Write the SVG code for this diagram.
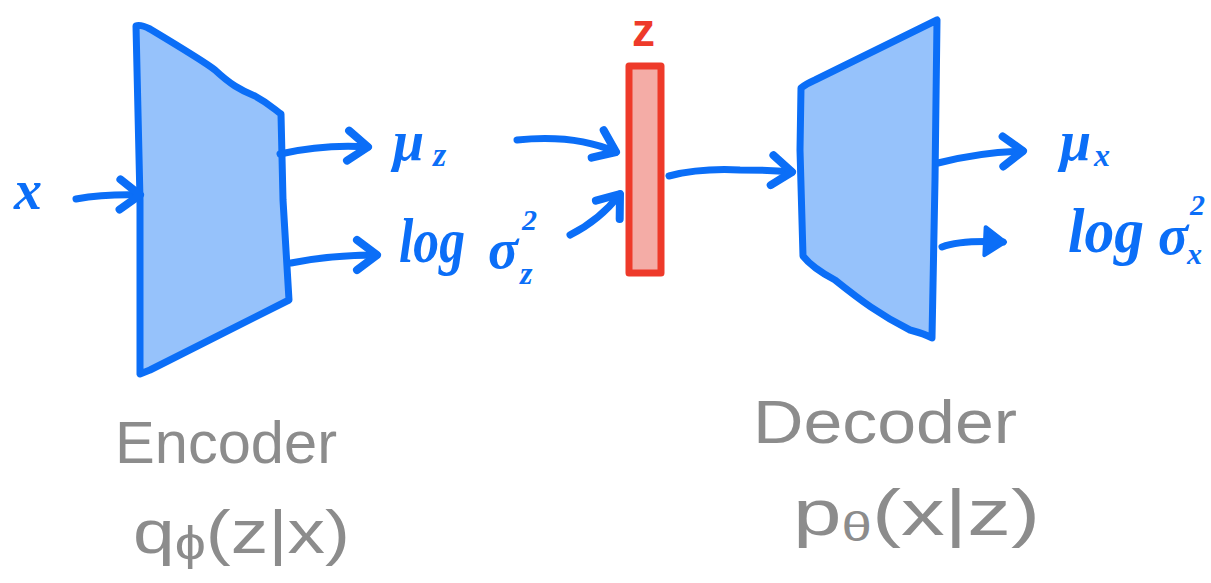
<svg xmlns="http://www.w3.org/2000/svg" width="1211" height="583" viewBox="0 0 1211 583">
<style>
.blk{fill:#96C2FB;stroke:#0B6EF7;stroke-width:7;stroke-linejoin:round;stroke-linecap:round}
.ln{fill:none;stroke:#0B6EF7;stroke-width:7;stroke-linecap:round;stroke-linejoin:round}
.m{fill:#0B6EF7;font-family:"Liberation Serif",serif;font-style:italic;font-weight:bold}
.g{fill:#8C8C8C;font-family:"Liberation Sans",sans-serif}
</style>
<defs>
<marker id="open" markerUnits="userSpaceOnUse" markerWidth="40" markerHeight="40" refX="20" refY="20" orient="auto" overflow="visible">
<path d="M0,5 L20,20 L0,35" fill="none" stroke="#0B6EF7" stroke-width="8" stroke-linecap="round" stroke-linejoin="round"/>
</marker>
<marker id="solid" markerUnits="userSpaceOnUse" markerWidth="40" markerHeight="40" refX="18" refY="16" orient="auto" overflow="visible">
<path d="M0,2 L20,16 L0,30 Z" fill="#0B6EF7" stroke="#0B6EF7" stroke-width="4" stroke-linejoin="round"/>
</marker>
</defs>
<g id="encoder">
<path class="blk" d="M136,26 Q140,24 150,29 C185,50 205,62 215,70 C230,84 240,90 255,96 C270,104 275,110 281,114 L283,200 L289,300 L150,370 L140,374 L140,200 Z"/>
</g>
<g id="z">
<rect x="629" y="66" width="32" height="207" fill="#F4ACA6" stroke="#EE3A2A" stroke-width="7" stroke-linejoin="round"/>
<text x="632" y="46" fill="#EE3A2A" font-family="Liberation Sans,sans-serif" font-weight="bold" font-size="46">z</text>
</g>
<g id="decoder">
<path class="blk" d="M801,88 Q806,84 815,80 L937,20 L935,180 L932,338 Q925,334 910,330 C880,315 860,300 835,280 C820,272 810,265 803,256 L800,150 Z"/>
</g>
<g id="connectors">
<path class="ln" marker-end="url(#open)" d="M76,199 Q105,194 140,195"/>
<path class="ln" marker-end="url(#open)" d="M280,154 Q325,144 368,147"/>
<path class="ln" marker-end="url(#open)" d="M291,263 Q330,255 377,255"/>
<path class="ln" marker-end="url(#open)" d="M517,140 Q575,134 616,152"/>
<path class="ln" marker-end="url(#open)" d="M570,235 Q600,220 620,194"/>
<path class="ln" marker-end="url(#open)" d="M669,176 Q700,168 740,170 Q770,170 792,172"/>
<path class="ln" marker-end="url(#open)" d="M938,163 Q980,152 1023,151"/>
<path class="ln" marker-end="url(#solid)" d="M942,247 Q960,240 1003,242"/>
</g>
<g id="labels">
<text class="m" x="14" y="209" font-size="56">x</text>
<text class="m" x="393" y="160" font-size="56">μ</text>
<text class="m" x="433" y="166" font-size="34">z</text>
<text class="m" x="399" y="262" font-size="64" textLength="66" lengthAdjust="spacingAndGlyphs">log</text>
<text class="m" x="488" y="268" font-size="56">σ</text>
<text class="m" x="522" y="230" font-size="30">2</text>
<text class="m" x="520" y="284" font-size="32">z</text>
<text class="m" x="1060" y="160" font-size="56">μ</text>
<text class="m" x="1094" y="166" font-size="32">x</text>
<text class="m" x="1068" y="252" font-size="64" textLength="76" lengthAdjust="spacingAndGlyphs">log</text>
<text class="m" x="1158" y="254" font-size="56">σ</text>
<text class="m" x="1190" y="215" font-size="30">2</text>
<text class="m" x="1187" y="264" font-size="30">x</text>
<text class="g" x="115" y="463" font-size="60" textLength="222" lengthAdjust="spacingAndGlyphs">Encoder</text>
<text class="g" x="133" y="553" font-size="62" textLength="217" lengthAdjust="spacingAndGlyphs">q<tspan font-size="46" dy="6">ϕ</tspan><tspan dy="-6">(z|x)</tspan></text>
<text class="g" x="753" y="443" font-size="62" textLength="264" lengthAdjust="spacingAndGlyphs">Decoder</text>
<text class="g" x="793" y="535" font-size="64" textLength="247" lengthAdjust="spacingAndGlyphs">p<tspan font-size="40" dy="6">θ</tspan><tspan dy="-6">(x|z)</tspan></text>
</g>
</svg>
